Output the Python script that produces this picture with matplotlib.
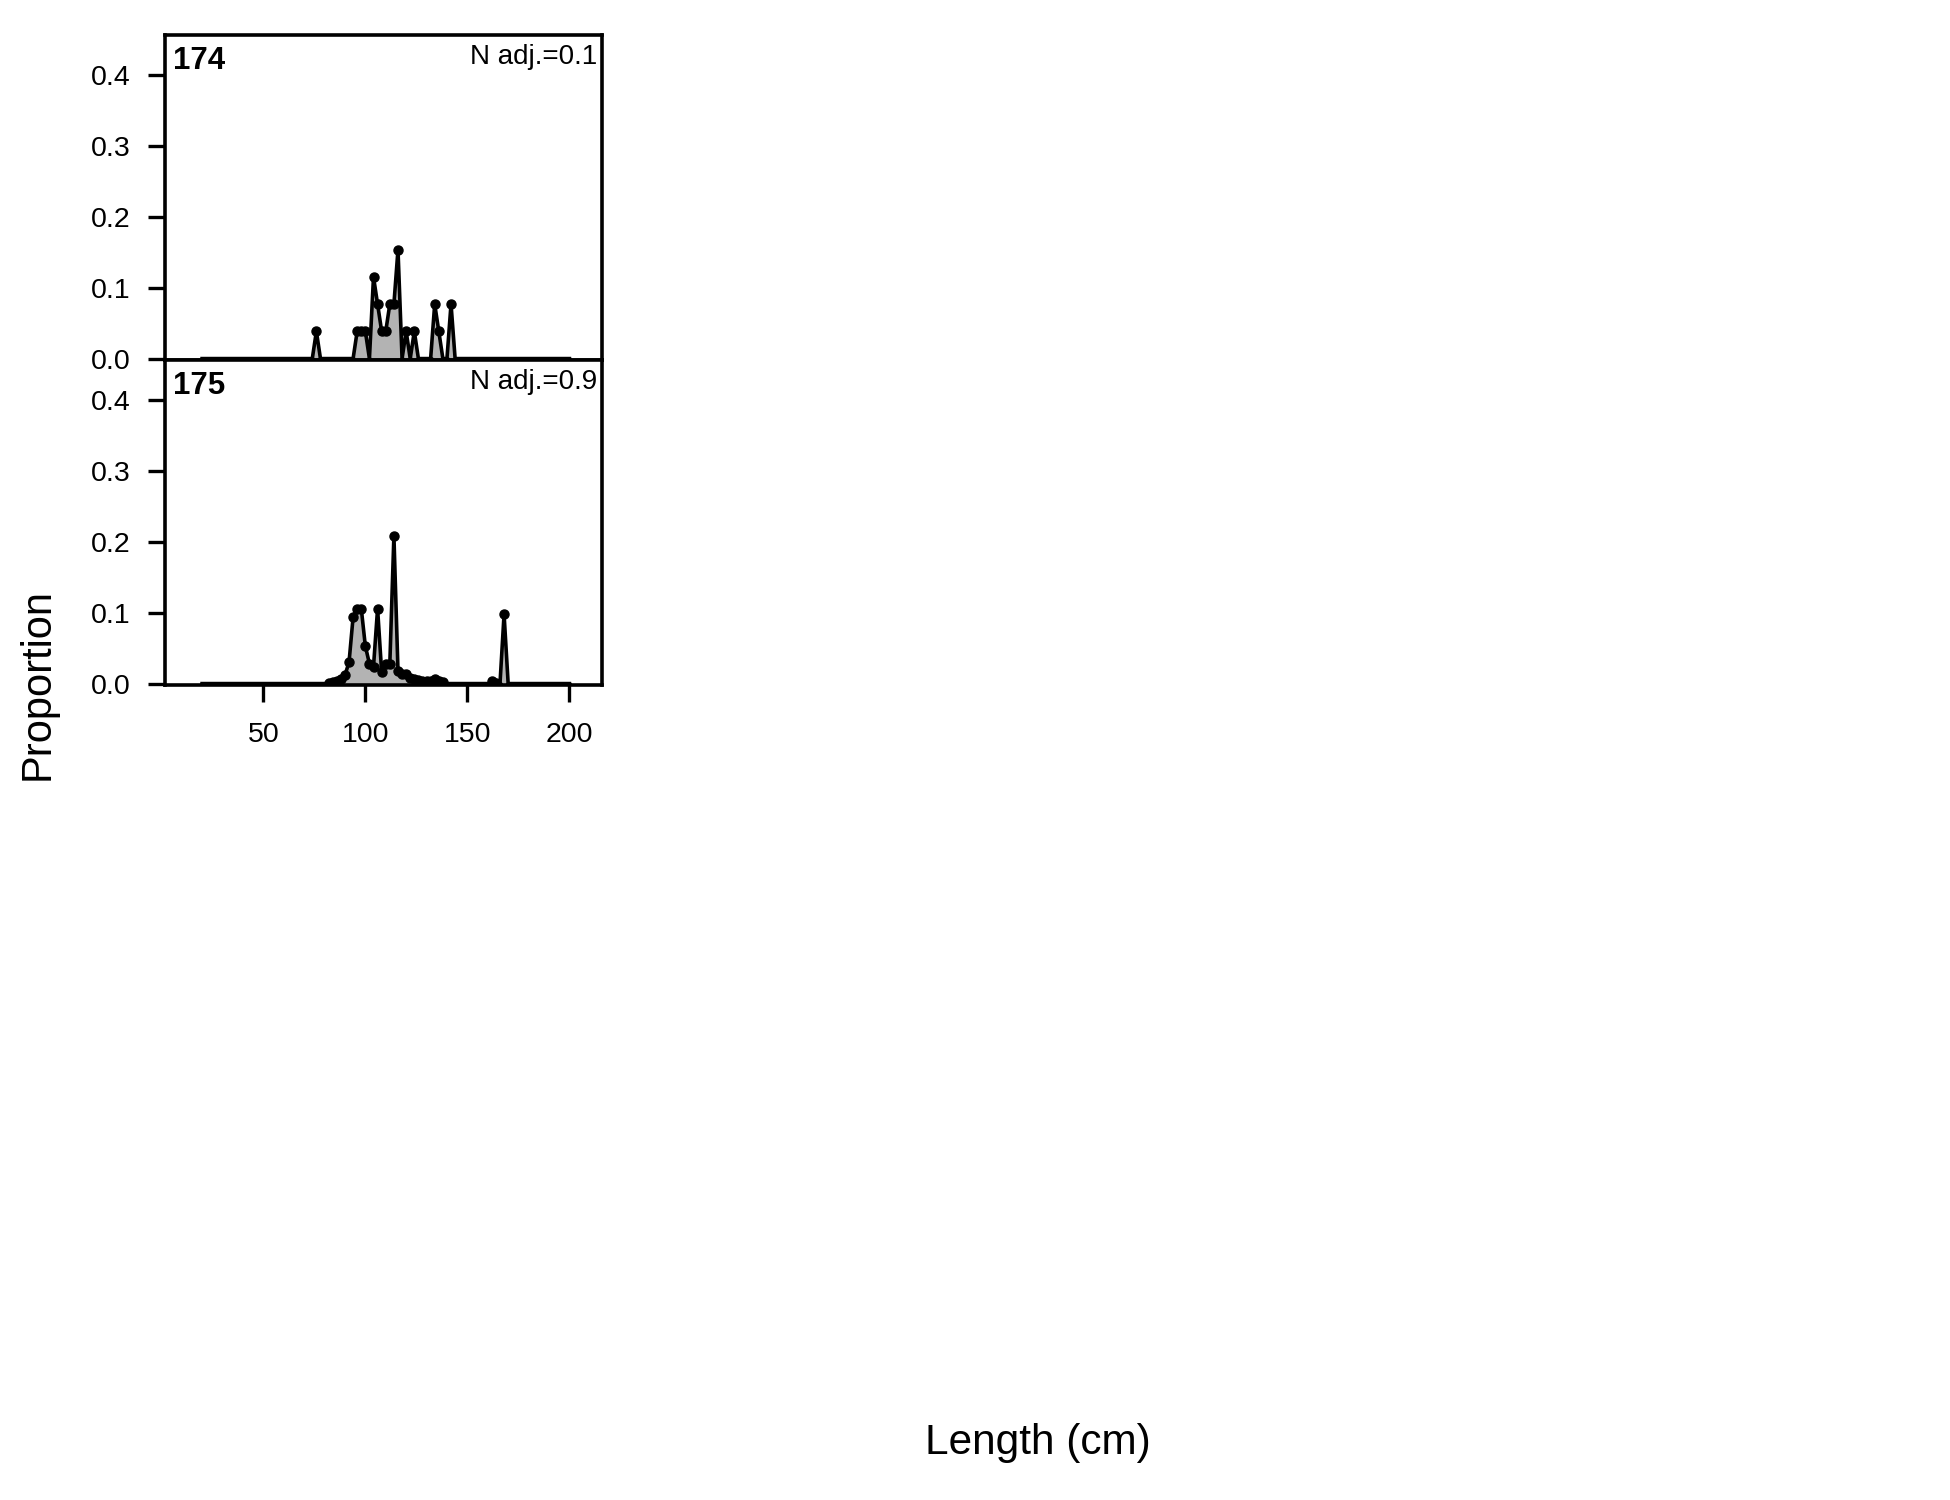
import numpy as np
import matplotlib
matplotlib.use("Agg")
import matplotlib.pyplot as plt

plt.rcParams['font.family'] = ['Liberation Sans', 'DejaVu Sans']

# ---- data ----
lengths = list(range(20, 201, 2))  # length bins (cm)

# panel 174 : nonzero bins
p174_bins = [76, 96, 98, 100, 104, 106, 108, 110, 112, 114, 116, 120, 124, 134, 136, 142]
p174_vals = [0.0385, 0.0385, 0.0385, 0.0385, 0.1154, 0.0769, 0.0385, 0.0385, 0.0769, 0.0769,
             0.1538, 0.0385, 0.0385, 0.0769, 0.0385, 0.0769]

# panel 175 : nonzero bins
p175_bins = [82, 84, 86, 88, 90, 92, 94, 96, 98, 100, 102, 104, 106, 108, 110, 112, 114, 116,
             118, 120, 122, 124, 126, 128, 130, 132, 134, 136, 138, 162, 164, 168]
p175_vals = [0.001, 0.002, 0.004, 0.007, 0.012, 0.030, 0.094, 0.106, 0.106, 0.053, 0.028, 0.024,
             0.106, 0.016, 0.028, 0.028, 0.209, 0.018, 0.013, 0.013, 0.008, 0.006, 0.005, 0.004,
             0.004, 0.004, 0.006, 0.003, 0.002, 0.003, 0.001, 0.098]

panel_labels = ["174", "175"]
nadj_labels = ["N adj.=0.1", "N adj.=0.9"]
yticks = [0.0, 0.1, 0.2, 0.3, 0.4]
xticks = [50, 100, 150, 200]


def full_series(bins, vals):
    d = dict(zip(bins, vals))
    return np.array([d.get(L, 0.0) for L in lengths])


series = [full_series(p174_bins, p174_vals), full_series(p175_bins, p175_vals)]

W, H = 1950, 1500
fig = plt.figure(figsize=(W / 100, H / 100), dpi=100)

left, right = 165, 602
tops = [35, 360]
ph = 325

x = np.array(lengths)
for i, (y, top) in enumerate(zip(series, tops)):
    ax = fig.add_axes([left / W, 1 - (top + ph) / H, (right - left) / W, ph / H])
    ax.fill_between(x, 0, y, color="#b3b3b3", lw=0, zorder=2)
    ax.plot(x, y, color="black", lw=2.6, zorder=4)
    nz = y > 0
    ax.plot(x[nz], y[nz], "o", color="black", ms=6.5, zorder=5)
    ax.plot(x[~nz], y[~nz], "o", color="black", ms=2.6, zorder=5)
    ax.set_xlim(1.8, 216.0)
    ax.set_ylim(-0.002, 0.457)
    for s in ax.spines.values():
        s.set_linewidth(2.6)
        s.set_zorder(3)
    ax.set_yticks(yticks)
    ax.set_yticklabels([f"{t:.1f}" for t in yticks])
    ax.tick_params(axis="y", direction="out", length=12, width=2.4, pad=13, labelsize=20.5)
    if i == 1:
        ax.set_xticks(xticks)
        ax.set_xticklabels([str(t) for t in xticks])
        ax.tick_params(axis="x", direction="out", length=12, width=2.4, pad=15, labelsize=20.5)
    else:
        ax.set_xticks([])
    ax.text(0.018, 0.965, panel_labels[i], transform=ax.transAxes, ha="left", va="top",
            fontsize=22.5, fontweight="bold")
    ax.text(0.99, 0.972, nadj_labels[i], transform=ax.transAxes, ha="right", va="top",
            fontsize=20)

fig.text(38 / W, 1 - 684 / H, "Proportion", rotation=90, ha="center", va="center", fontsize=30)
fig.text(1038 / W, 1 - 1443 / H, "Length (cm)", ha="center", va="center", fontsize=30.5)

fig.savefig("out.png", dpi=100)
